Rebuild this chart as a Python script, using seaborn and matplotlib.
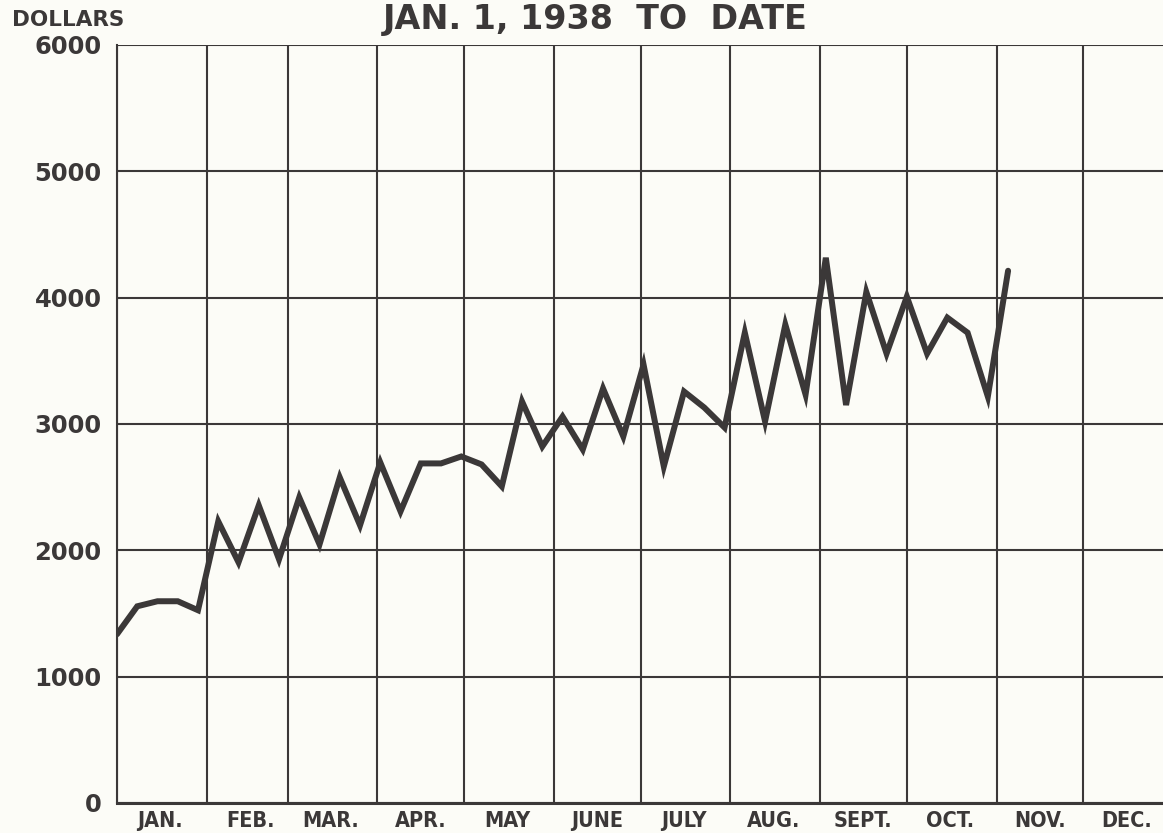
import pandas as pd
import seaborn as sns
import matplotlib.pyplot as plt

# weekly dollar totals
week_start = "1938-01-01"
n_weeks = 45
dollars = [1336, 1557, 1597, 1597, 1526, 2229, 1905, 2356, 1929, 2419,
           2047, 2577, 2198, 2696, 2308, 2688, 2688, 2743, 2680, 2506,
           3178, 2822, 3059, 2798, 3281, 2901, 3470, 2664, 3257, 3130,
           2972, 3723, 3020, 3787, 3233, 4316, 3150, 4045, 3557, 4008,
           3557, 3842, 3723, 3217, 4213]
month_labels = ["JAN.", "FEB.", "MAR.", "APR.", "MAY", "JUNE", "JULY",
                "AUG.", "SEPT.", "OCT.", "NOV.", "DEC."]
y_ticks = [0, 1000, 2000, 3000, 4000, 5000, 6000]

df = pd.DataFrame({"week": pd.date_range(week_start, periods=n_weeks, freq="7D"),
                   "dollars": dollars})

sns.set_style("white")
plt.rcParams["font.family"] = ["DejaVu Sans"]
plt.rcParams["font.weight"] = "bold"

ink = "#3b3838"
paper = "#fcfcf7"

fig = plt.figure(figsize=(11.63, 8.33), dpi=100, facecolor=paper)
ax = fig.add_axes([117 / 1163, 1 - 803 / 833, 1056 / 1163, 758 / 833])
ax.set_facecolor(paper)

sns.lineplot(data=df, x="week", y="dollars", ax=ax, color=ink, linewidth=4.3,
             solid_joinstyle="miter", zorder=3)

# month boundaries as grid, labels at mid-month
month_starts = pd.date_range("1938-01-01", periods=12, freq="MS")
ax.set_xticks(month_starts)
ax.xaxis.set_major_formatter(plt.NullFormatter())
ax.set_xticks(month_starts + pd.Timedelta(days=15), minor=True)
ax.set_xticklabels(month_labels, minor=True, fontsize=15.5, color=ink,
                   fontstretch="condensed")
ax.set_yticks(y_ticks)
ax.set_yticklabels([str(v) for v in y_ticks], fontsize=17.5, color=ink)

ax.set_xlim(pd.Timestamp("1938-01-01"), pd.Timestamp("1939-01-01"))
ax.set_ylim(0, 6000)

ax.grid(True, which="major", color=ink, linewidth=1.5)
ax.tick_params(which="both", length=0)
ax.tick_params(axis="y", pad=11)
ax.tick_params(axis="x", which="minor", pad=6)

for side in ["top", "right"]:
    ax.spines[side].set_visible(False)
ax.spines["left"].set_color(ink)
ax.spines["left"].set_linewidth(1.5)
ax.spines["bottom"].set_color(ink)
ax.spines["bottom"].set_linewidth(2.2)

ax.set_xlabel("")
ax.set_ylabel("")

fig.text(12 / 1163, 1 - 20 / 833, "DOLLARS", fontsize=15.5, color=ink,
         ha="left", va="center")
fig.text(595 / 1163, 1 - 19 / 833, "JAN. 1, 1938  TO  DATE", fontsize=24,
         color=ink, ha="center", va="center")

fig.savefig("out.png", dpi=100, facecolor=paper)
